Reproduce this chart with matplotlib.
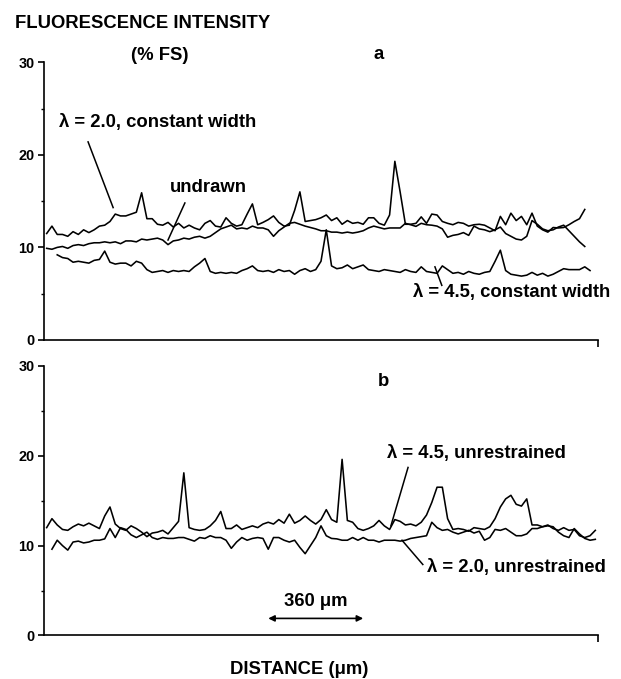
import numpy as np
import matplotlib
matplotlib.use("Agg")
import matplotlib.pyplot as plt

plt.rcParams['font.family'] = ['Liberation Sans', 'DejaVu Sans']
plt.rcParams['font.weight'] = 'bold'

# scan positions along the fibre (um), one reading every 20 um
distance = np.arange(10, 2100, 20)

# panel a, values in % full scale
lam20_width = [
    11.5, 12.3, 11.4, 11.4, 11.2, 11.7, 11.4, 11.9, 11.6, 11.9,
    12.3, 12.4, 12.8, 13.6, 13.4, 13.4, 13.6, 13.8, 15.9, 13.1,
    13.1, 12.5, 12.4, 12.7, 12.2, 12.6, 12.1, 12.4, 12.1, 11.9,
    12.6, 12.9, 12.3, 12.2, 13.2, 12.6, 12.3, 12.45, 13.6, 14.7,
    12.45, 12.7, 13.0, 13.4, 12.7, 12.3, 12.4, 14.0, 16.0, 12.8,
    12.9, 13.0, 13.2, 13.5, 12.9, 13.2, 12.5, 12.9, 12.6, 12.7,
    12.5, 13.2, 13.2, 12.6, 12.4, 13.5, 19.3, 16.0, 12.5, 12.5,
    12.6, 13.3, 12.6, 13.6, 13.5, 12.8, 12.6, 12.45, 12.7, 12.6,
    12.3, 12.45, 12.5, 12.4, 12.1, 11.8, 13.35, 12.45, 13.7, 12.9,
    13.35, 12.45, 13.7, 12.3, 11.9, 11.65, 12.15, 12.1, 12.15, 12.45,
    12.8, 13.1, 14.1,
]
undrawn = [
    9.9, 9.8, 10.0, 10.1, 9.9, 10.2, 10.3, 10.2, 10.4, 10.5,
    10.5, 10.6, 10.5, 10.6, 10.4, 10.7, 10.7, 10.6, 10.9, 10.8,
    10.9, 11.0, 10.8, 10.3, 10.7, 10.8, 11.0, 10.9, 11.1, 11.2,
    11.0, 11.2, 11.6, 12.0, 12.2, 12.4, 12.0, 12.1, 12.0, 12.3,
    12.1, 12.1, 11.9, 11.2, 11.8, 12.2, 12.6, 12.7, 12.5, 12.3,
    12.15, 12.0, 11.8, 11.8, 11.65, 11.65, 11.55, 11.65, 11.55, 11.65,
    11.8, 12.1, 12.3, 12.15, 12.0, 12.1, 12.1, 12.1, 12.6, 12.45,
    12.27, 12.6, 12.45, 12.4, 12.3, 12.0, 11.1, 11.3, 11.4, 11.6,
    11.3, 12.3, 12.0, 11.9, 11.7, 11.9, 12.2, 11.5, 11.2, 10.9,
    10.8, 11.2, 12.9, 12.5, 12.0, 11.8, 11.9, 12.2, 12.4, 11.8,
    11.2, 10.6, 10.1,
]
# starts at the third scan position
lam45_width = [
    9.2, 8.9, 8.8, 8.4, 8.5, 8.4, 8.3, 8.6, 8.7, 9.6,
    8.4, 8.2, 8.3, 8.3, 8.0, 8.5, 8.3, 7.6, 7.3, 7.4,
    7.5, 7.3, 7.5, 7.4, 7.5, 7.4, 7.9, 8.3, 8.8, 7.4,
    7.2, 7.3, 7.2, 7.3, 7.2, 7.5, 7.7, 8.0, 7.5, 7.4,
    7.5, 7.3, 7.6, 7.4, 7.5, 7.1, 7.5, 7.7, 7.4, 7.6,
    8.5, 11.9, 8.0, 7.7, 7.8, 8.1, 7.7, 7.9, 8.1, 7.6,
    7.5, 7.4, 7.6, 7.5, 7.4, 7.3, 7.6, 7.4, 7.3, 7.9,
    7.4, 7.3, 7.2, 8.0, 7.6, 7.2, 7.3, 7.1, 7.4, 7.2,
    7.1, 7.3, 7.4, 8.5, 9.7, 7.5, 7.1, 7.0, 6.9, 7.0,
    7.3, 7.0, 7.2, 6.9, 7.1, 7.4, 7.7, 7.6, 7.6, 7.6,
    7.9, 7.5,
]

# panel b
lam45_free = [
    12.0, 13.0, 12.3, 11.8, 11.7, 12.1, 12.4, 12.2, 12.5, 12.2,
    11.9, 13.3, 14.3, 12.4, 11.9, 11.7, 12.2, 11.9, 11.5, 11.0,
    11.4, 11.5, 11.7, 11.3, 12.0, 12.7, 18.1, 12.0, 11.8, 11.7,
    11.8, 12.2, 12.8, 13.8, 11.9, 11.9, 12.3, 11.8, 12.0, 12.2,
    12.0, 12.4, 12.6, 12.4, 12.9, 12.5, 13.5, 12.5, 12.8, 13.3,
    12.8, 12.4, 12.9, 14.0, 12.9, 12.6, 19.6, 12.8, 12.6, 11.9,
    11.7, 11.9, 12.2, 12.8, 12.2, 11.8, 12.9, 12.7, 12.3, 12.4,
    12.2, 12.6, 13.4, 14.8, 16.5, 16.5, 13.0, 11.8, 11.9, 11.8,
    11.6, 12.0, 11.9, 11.8, 12.1, 13.0, 14.3, 15.2, 15.6, 14.6,
    14.4, 15.2, 12.3, 12.3, 12.1, 12.3, 11.9, 11.7, 12.0, 11.7,
    11.8, 11.1, 10.9, 11.1, 11.7,
]
# starts at the second scan position
lam20_free = [
    9.6, 10.6, 10.0, 9.5, 10.4, 10.5, 10.3, 10.4, 10.6, 10.6,
    10.75, 11.9, 10.9, 12.0, 11.8, 11.2, 10.9, 11.2, 11.5, 10.9,
    10.7, 10.9, 10.8, 10.8, 10.9, 10.9, 10.7, 10.5, 10.9, 10.8,
    11.1, 10.9, 10.9, 10.6, 9.7, 10.4, 10.9, 10.6, 10.8, 10.9,
    10.8, 9.6, 10.9, 10.9, 10.6, 10.4, 10.6, 9.8, 9.1, 10.0,
    10.9, 12.2, 11.1, 10.8, 10.75, 10.6, 10.6, 10.9, 10.6, 10.9,
    10.6, 10.6, 10.4, 10.6, 10.6, 10.6, 10.5, 10.6, 10.8, 10.9,
    11.0, 11.1, 12.6, 12.0, 11.7, 11.8, 11.5, 11.3, 11.5, 11.7,
    11.4, 11.6, 10.6, 10.9, 11.8, 11.7, 11.9, 11.5, 11.1, 11.1,
    11.3, 11.9, 11.9, 12.1, 12.2, 12.1, 11.5, 11.1, 10.9, 11.9,
    11.3, 10.8, 10.6, 10.7,
]

yticks = [0, 10, 20, 30]
scale_bar_um = 360

fig = plt.figure(figsize=(6.21, 6.79), dpi=100)
ax_a = fig.add_axes([0.0709, 0.4993, 0.892, 0.409])
ax_b = fig.add_axes([0.0709, 0.0641, 0.892, 0.397])

TXT = 13.3
LW = 1.15


def style(ax):
    ax.set_xlim(0, 2100)
    ax.set_ylim(0, 30)
    for s in ['top', 'right']:
        ax.spines[s].set_visible(False)
    for s in ['left', 'bottom']:
        ax.spines[s].set_linewidth(1.2)
    ax.set_yticks(yticks)
    ax.set_yticks([5, 15, 25], minor=True)
    ax.set_xticks([2100])
    ax.set_xticklabels([])
    ax.tick_params(axis='y', which='major', length=4, width=1.2, pad=3, labelsize=10.4)
    ax.tick_params(axis='y', which='minor', length=2, width=1.0)
    ax.tick_params(axis='x', length=5, width=1.2)
    for lab in ax.get_yticklabels():
        lab.set_fontweight('bold')


def pointer(ax, x0, y0, x1, y1):
    ax.plot([x0, x1], [y0, y1], color='black', lw=1.1, clip_on=False)


# panel a
style(ax_a)
ax_a.plot(distance[:len(lam20_width)], lam20_width, color='black', lw=LW)
ax_a.plot(distance[:len(undrawn)], undrawn, color='black', lw=LW)
ax_a.plot(distance[2:2 + len(lam45_width)], lam45_width, color='black', lw=LW)

ax_a.text(1270, 30.8, 'a', fontsize=TXT, fontweight='bold', ha='center', va='center')
ax_a.text(57, 23.5, 'λ = 2.0, constant width', fontsize=TXT, fontweight='bold', va='center')
pointer(ax_a, 167, 21.4, 262, 14.3)
ax_a.text(478, 16.5, 'undrawn', fontsize=TXT, fontweight='bold', va='center')
pointer(ax_a, 534, 14.8, 470, 10.8)
ax_a.text(1398, 5.1, 'λ = 4.5, constant width', fontsize=TXT, fontweight='bold', va='center')
pointer(ax_a, 1482, 7.9, 1508, 5.9)

# panel b
style(ax_b)
ax_b.plot(distance[:len(lam45_free)], lam45_free, color='black', lw=LW)
ax_b.plot(distance[1:1 + len(lam20_free)], lam20_free, color='black', lw=LW)

ax_b.text(1285, 28.3, 'b', fontsize=TXT, fontweight='bold', ha='center', va='center')
ax_b.text(1300, 20.3, 'λ = 4.5, unrestrained', fontsize=TXT, fontweight='bold', va='center')
pointer(ax_b, 1380, 18.7, 1315, 12.2)
ax_b.text(1452, 7.6, 'λ = 2.0, unrestrained', fontsize=TXT, fontweight='bold', va='center')
pointer(ax_b, 1436, 7.9, 1357, 10.6)

ax_b.annotate('', xy=(850, 1.9), xytext=(850 + scale_bar_um, 1.9),
              arrowprops=dict(arrowstyle='<|-|>', color='black', lw=1.2,
                              mutation_scale=9, shrinkA=0, shrinkB=0))
ax_b.text(850 + scale_bar_um / 2, 3.8, '360 μm', fontsize=TXT, fontweight='bold',
          ha='center', va='center')

fig.text(0.0242, 0.966, 'FLUORESCENCE INTENSITY', fontsize=TXT, fontweight='bold', va='center')
fig.text(160 / 621, 1 - 55 / 679, '(% FS)', fontsize=TXT, fontweight='bold',
         ha='center', va='center')
fig.text(299 / 621, 1 - 670 / 679, 'DISTANCE (μm)', fontsize=TXT, fontweight='bold',
         ha='center', va='center')

fig.savefig('out.png', dpi=100)
